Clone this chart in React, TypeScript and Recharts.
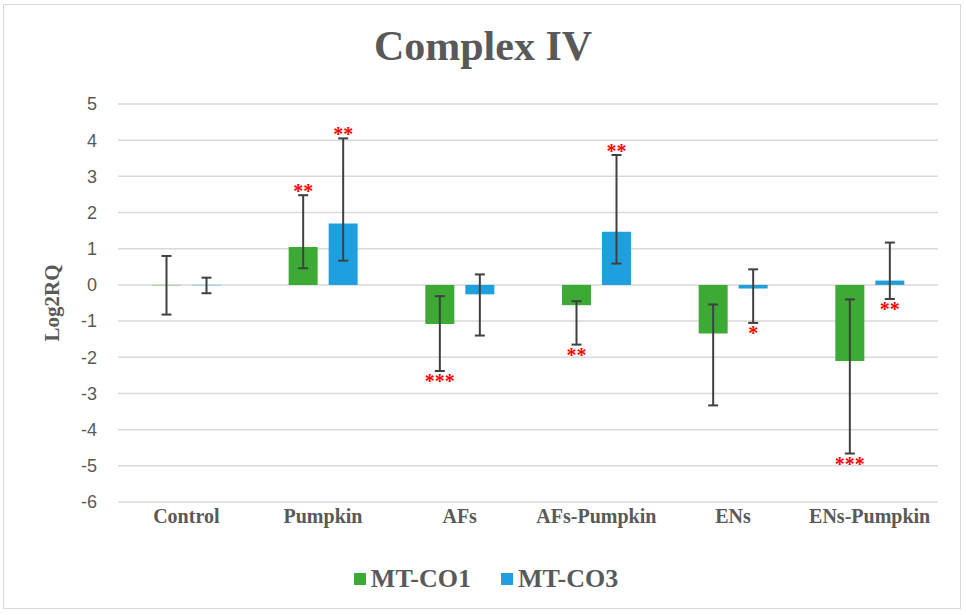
import { BarChart, Bar, XAxis, YAxis, CartesianGrid, ErrorBar, LabelList, Legend } from 'recharts';

const categories = ['Control', 'Pumpkin', 'AFs', 'AFs-Pumpkin', 'ENs', 'ENs-Pumpkin'];

const co1Values = [-0.01, 1.05, -1.08, -0.56, -1.34, -2.1];
const co1Upper = [0.8, 2.48, -0.31, -0.45, -0.54, -0.4];
const co1Lower = [-0.82, 0.46, -2.38, -1.65, -3.33, -4.66];
const co1Stars = ['', '**', '***', '**', '', '***'];
const co1StarSide = ['', 'top', 'bottom', 'bottom', '', 'bottom'];

const co3Values = [-0.01, 1.7, -0.26, 1.47, -0.1, 0.12];
const co3Upper = [0.2, 4.05, 0.29, 3.59, 0.43, 1.17];
const co3Lower = [-0.23, 0.67, -1.4, 0.59, -1.05, -0.39];
const co3Stars = ['', '**', '', '**', '*', '**'];
const co3StarSide = ['', 'top', '', 'top', 'bottom', 'bottom'];

const yTicks = [-6, -5, -4, -3, -2, -1, 0, 1, 2, 3, 4, 5];

const GREEN = '#3DAA35';
const BLUE = '#1E9FDE';
const TEXT = '#595959';
const SERIF = '"Liberation Serif", "Times New Roman", serif';

const data = categories.map((name, i) => ({
    name,
    co1: co1Values[i],
    co1Err: [co1Values[i] - co1Lower[i], co1Upper[i] - co1Values[i]],
    co3: co3Values[i],
    co3Err: [co3Values[i] - co3Lower[i], co3Upper[i] - co3Values[i]],
}));

// stars sit just past the error bar cap; pixel scale is taken from the bar itself
const starLabel = (values: number[], upper: number[], lower: number[], stars: string[], side: string[]) =>
    (props: any) => {
        const i = categories.indexOf(props.value);
        const star = stars[i];
        if (!star) return null;
        const vb = props.viewBox ?? props;
        const top = Math.min(vb.y, vb.y + vb.height);
        const bottom = Math.max(vb.y, vb.y + vb.height);
        const v = values[i];
        const zeroY = v >= 0 ? bottom : top;
        const ppu = (bottom - top) / Math.abs(v);
        const toY = (val: number) => zeroY - val * ppu;
        const cx = vb.x + vb.width / 2;
        const y = side[i] === 'top' ? toY(upper[i]) + 3 : toY(lower[i]) + 17;
        return (
            <text x={cx} y={y} textAnchor="middle" fill="#FF0000" fontFamily={SERIF} fontWeight="bold" fontSize={20}>
                {star}
            </text>
        );
    };

const legendItems = [
    { label: 'MT-CO1', color: GREEN },
    { label: 'MT-CO3', color: BLUE },
];

function ChartLegend() {
    return (
        <div style={{ display: 'flex', justifyContent: 'center', alignItems: 'center', gap: 30, paddingLeft: 34 }}>
            {legendItems.map((item) => (
                <div key={item.label} style={{ display: 'flex', alignItems: 'center', gap: 5 }}>
                    <span style={{ width: 12, height: 12, background: item.color, display: 'inline-block' }} />
                    <span style={{ fontFamily: SERIF, fontWeight: 'bold', fontSize: 26, color: TEXT }}>{item.label}</span>
                </div>
            ))}
        </div>
    );
}

export default function App() {
    return (
        <div style={{ position: 'absolute', left: 0, top: 0, width: 966, height: 615, background: '#fff' }}>
            <div
                style={{
                    position: 'absolute',
                    left: 3,
                    top: 4,
                    width: 958,
                    height: 605,
                    border: '1px solid #d9d9d9',
                    boxSizing: 'border-box',
                }}
            />
            <div
                style={{
                    position: 'absolute',
                    left: 0,
                    width: 966,
                    top: 22,
                    textAlign: 'center',
                    fontFamily: SERIF,
                    fontWeight: 'bold',
                    fontSize: 42,
                    color: TEXT,
                    lineHeight: '48px',
                }}
            >
                Complex IV
            </div>
            <BarChart
                width={966}
                height={615}
                data={data}
                margin={{ top: 104, right: 28, left: 0, bottom: 11 }}
                barSize={29}
                barGap={11}
                style={{ position: 'absolute', left: 0, top: 0 }}
            >
                <CartesianGrid vertical={false} stroke="#d9d9d9" strokeWidth={1.5} />
                <XAxis
                    dataKey="name"
                    axisLine={false}
                    tickLine={false}
                    height={62}
                    tickMargin={1}
                    interval={0}
                    tick={{ fill: TEXT, fontFamily: SERIF, fontWeight: 'bold', fontSize: 20 }}
                />
                <YAxis
                    domain={[-6, 5]}
                    ticks={yTicks}
                    width={118}
                    axisLine={false}
                    tickLine={false}
                    tickMargin={15}
                    interval={0}
                    tick={{ fill: TEXT, fontFamily: '"Liberation Sans", Arial, sans-serif', fontSize: 18 }}
                    label={{
                        value: 'Log2RQ',
                        angle: -90,
                        position: 'insideLeft',
                        offset: 52,
                        style: { fill: TEXT, fontFamily: SERIF, fontWeight: 'bold', fontSize: 21, textAnchor: 'middle' },
                    }}
                />
                <Legend verticalAlign="bottom" height={40} content={<ChartLegend />} />
                <Bar dataKey="co1" name="MT-CO1" fill={GREEN} isAnimationActive={false}>
                    <ErrorBar dataKey="co1Err" stroke="#404040" strokeWidth={2} width={5} />
                    <LabelList dataKey="name" content={starLabel(co1Values, co1Upper, co1Lower, co1Stars, co1StarSide)} />
                </Bar>
                <Bar dataKey="co3" name="MT-CO3" fill={BLUE} isAnimationActive={false}>
                    <ErrorBar dataKey="co3Err" stroke="#404040" strokeWidth={2} width={5} />
                    <LabelList dataKey="name" content={starLabel(co3Values, co3Upper, co3Lower, co3Stars, co3StarSide)} />
                </Bar>
            </BarChart>
        </div>
    );
}
